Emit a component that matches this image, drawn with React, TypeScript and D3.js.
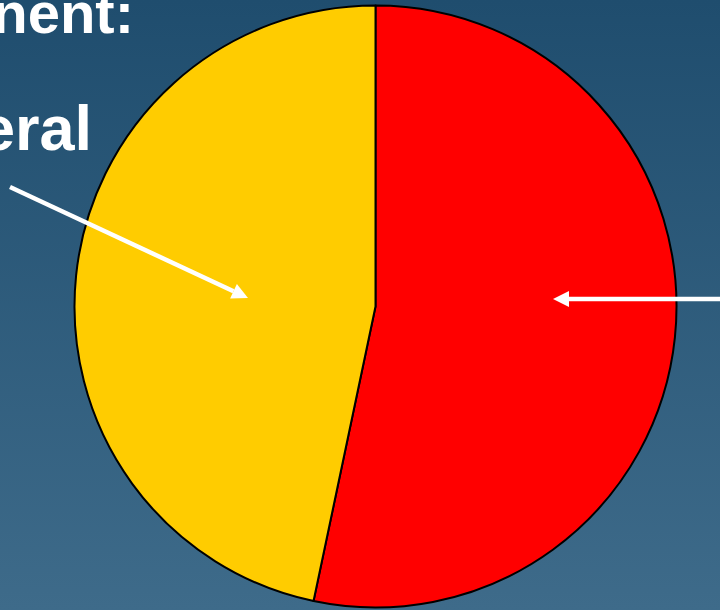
import React from "react";
import * as d3 from "d3";

const categories = ["Red share", "Yellow share"];
const values = [53.3, 46.7];
const colors = ["#FF0000", "#FFCC00"];
const headingFragments = ["nent:", "eral"];

const W = 720;
const H = 610;

function arrowHead(x1: number, y1: number, x2: number, y2: number, len: number, half: number) {
  const dx = x2 - x1;
  const dy = y2 - y1;
  const d = Math.hypot(dx, dy);
  const ux = dx / d;
  const uy = dy / d;
  const bx = x2 - ux * len;
  const by = y2 - uy * len;
  const p = d3.path();
  p.moveTo(x2, y2);
  p.lineTo(bx - uy * half, by + ux * half);
  p.lineTo(bx + uy * half, by - ux * half);
  p.closePath();
  return { d: p.toString(), bx, by };
}

export default function App() {
  const pie = d3.pie<number>().sort(null).startAngle(0).endAngle(2 * Math.PI);
  const arcs = pie(values);
  const r = 301;
  const cx = 375.5;
  const cy = 306.5;
  const arc = d3.arc<d3.PieArcDatum<number>>().innerRadius(0).outerRadius(r);

  const a1 = arrowHead(10, 187, 248, 298, 16, 8);
  const a2 = arrowHead(722, 299, 553, 299, 16, 8);

  return (
    <svg
      width={W}
      height={H}
      style={{ position: "fixed", left: 0, top: 0, display: "block" }}
      fontFamily="Liberation Sans, Arial, sans-serif"
    >
      <defs>
        <linearGradient id="bg" x1="0" y1="0" x2="0" y2="1">
          <stop offset="0" stopColor="#1F4D6E" />
          <stop offset="1" stopColor="#3E6B8A" />
        </linearGradient>
      </defs>
      <rect x={0} y={0} width={W} height={H} fill="url(#bg)" />
      <text x={134} y={33} textAnchor="end" fill="#FFFFFF" fontWeight="bold" fontSize={58}>
        {headingFragments[0]}
      </text>
      <text x={92} y={150} textAnchor="end" fill="#FFFFFF" fontWeight="bold" fontSize={63}>
        {headingFragments[1]}
      </text>
      <g transform={`translate(${cx},${cy})`}>
        {arcs.map((a, i) => (
          <path key={categories[i]} d={arc(a) || ""} fill={colors[i]} stroke="#000000" strokeWidth={2} strokeLinejoin="round" />
        ))}
      </g>
      <line x1={10} y1={187} x2={a1.bx} y2={a1.by} stroke="#FFFFFF" strokeWidth={4.5} />
      <path d={a1.d} fill="#FFFFFF" />
      <line x1={722} y1={299} x2={a2.bx} y2={a2.by} stroke="#FFFFFF" strokeWidth={4.5} />
      <path d={a2.d} fill="#FFFFFF" />
    </svg>
  );
}
